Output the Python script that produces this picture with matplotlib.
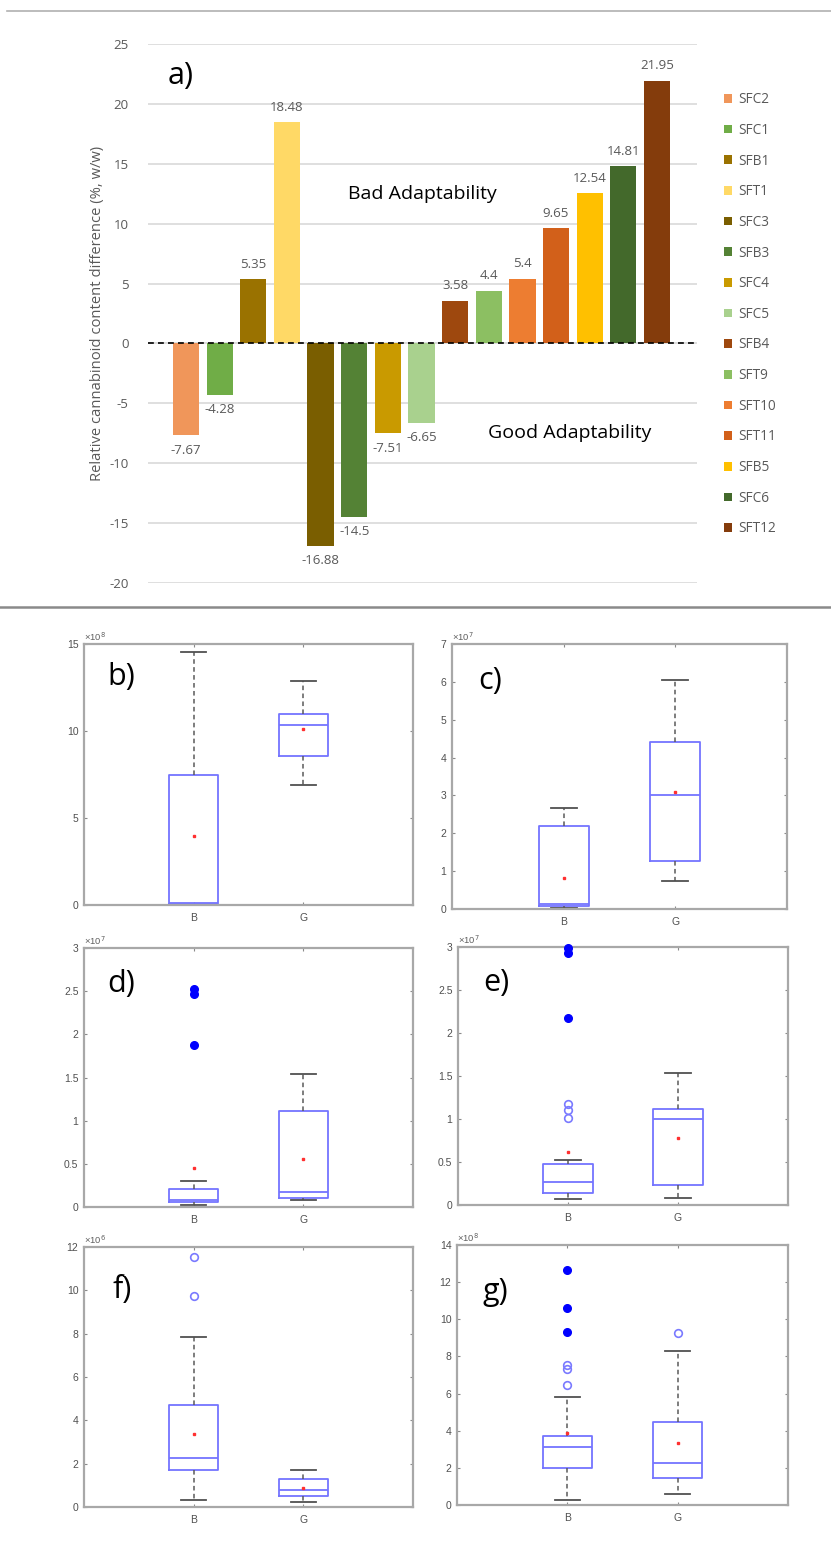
import matplotlib
matplotlib.use("Agg")
import matplotlib.pyplot as plt
from matplotlib.patches import Patch
from matplotlib.lines import Line2D

# ---------------- data: panel a ----------------
samples = ["SFC2", "SFC1", "SFB1", "SFT1", "SFC3", "SFB3", "SFC4", "SFC5",
           "SFB4", "SFT9", "SFT10", "SFT11", "SFB5", "SFC6", "SFT12"]
diff_values = [-7.67, -4.28, 5.35, 18.48, -16.88, -14.5, -7.51, -6.65,
               3.58, 4.4, 5.4, 9.65, 12.54, 14.81, 21.95]
bar_colors = ["#F0965A", "#70AD47", "#9A7200", "#FFD966", "#7A5E00", "#548235",
              "#C99A00", "#A9D18E", "#9E480E", "#8CBF62", "#ED7D31", "#D2601A",
              "#FFC000", "#43692B", "#843C0C"]
y_ticks_a = [-20, -15, -10, -5, 0, 5, 10, 15, 20, 25]

# ---------------- data: panels b-g (values in units of 10^exp) ----------------
panel_names = ["b)", "c)", "d)", "e)", "f)", "g)"]
groups = ["B", "G"]
exponents = [8, 7, 7, 7, 6, 8]
y_max = [15, 7, 3, 3, 12, 14]
y_step = [5, 1, 0.5, 0.5, 2, 2]

whislo = [[0.0, 6.92], [0.02, 0.74], [0.023, 0.081], [0.066, 0.078], [0.32, 0.23], [0.27, 0.59]]
q1 = [[0.04, 8.57], [0.07, 1.26], [0.058, 0.104], [0.136, 0.229], [1.69, 0.51], [1.98, 1.44]]
median = [[0.1, 10.33], [0.12, 3.01], [0.08, 0.174], [0.264, 1.004], [2.28, 0.80], [3.11, 2.28]]
q3 = [[7.49, 10.99], [2.18, 4.41], [0.205, 1.11], [0.477, 1.113], [4.69, 1.31], [3.70, 4.49]]
whishi = [[14.56, 12.87], [2.68, 6.05], [0.30, 1.54], [0.52, 1.53], [7.83, 1.69], [5.82, 8.28]]
means = [[3.94, 10.09], [0.82, 3.09], [0.455, 0.553], [0.613, 0.776], [3.38, 0.88], [3.88, 3.36]]
outliers_open = [[[], []], [[], []], [[], []],
                 [[1.18, 1.10, 1.01], []],
                 [[11.55, 9.74], []],
                 [[7.54, 7.31, 6.46], [9.25]]]
outliers_filled = [[[], []], [[], []],
                   [[2.53, 2.47, 1.88], []],
                   [[2.99, 2.93, 2.18], []],
                   [[], []],
                   [[12.67, 10.59, 9.30], []]]

# ---------------- figure ----------------
W, H = 831, 1552
fig = plt.figure(figsize=(W / 100, H / 100), dpi=100)


def px_axes(l, t, r, b):
    return fig.add_axes([l / W, 1 - b / H, (r - l) / W, (b - t) / H])


# frame lines
fig.add_artist(Line2D([7 / W, 1], [1 - 11 / H, 1 - 11 / H], color="#b0b0b0", lw=1.2))
fig.add_artist(Line2D([0, 1], [1 - 607 / H, 1 - 607 / H], color="#8a8a8a", lw=1.8))

# ---------------- panel a ----------------
office = ["Open Sans", "DejaVu Sans"]
ax = px_axes(148, 44, 697, 583)
x = list(range(len(samples)))
bars = ax.bar(x, diff_values, width=0.78, color=bar_colors, zorder=3)
ax.set_xlim(-1.13, len(samples) - 1 + 1.19)
ax.set_ylim(-20, 25)
ax.set_yticks(y_ticks_a)
ax.set_yticklabels([str(v) for v in y_ticks_a], fontsize=9.5, color="#595959", family=office)
ax.tick_params(axis="y", length=0, pad=14)
ax.set_xticks([])
for s in ax.spines.values():
    s.set_visible(False)
ax.yaxis.grid(True, color="#d9d9d9", lw=1.2, zorder=0)
ax.axhline(0, color="black", lw=1.2, ls=(0, (3.5, 2.5)), zorder=4)
ax.bar_label(bars, labels=[f"{v:g}" for v in diff_values], padding=6,
             fontsize=9.5, color="#595959", family=office)
ax.set_ylabel("Relative cannabinoid content difference (%, w/w)", fontsize=10.6,
              color="#595959", family=office, labelpad=3)
ax.text(0.035, 0.94, "a)", transform=ax.transAxes, fontsize=22, family=office,
        ha="left", va="center")
ax.text(0.499, 0.722, "Bad Adaptability", transform=ax.transAxes, fontsize=14,
        family=office, ha="center", va="center")
ax.text(0.768, 0.278, "Good Adaptability", transform=ax.transAxes, fontsize=14,
        family=office, ha="center", va="center")

handles = [Patch(facecolor=c, edgecolor="none") for c in bar_colors]
fig.legend(handles, samples, loc="upper left",
           bbox_to_anchor=(712 / W, 1 - 80 / H), frameon=False,
           handlelength=0.6, handleheight=0.6, handletextpad=0.45,
           labelspacing=1.15, prop={"family": office, "size": 9.8},
           labelcolor="#595959")

# ---------------- panels b-g ----------------
boxes_px = [(84, 644, 413, 905), (452, 644, 787, 909),
            (84, 948, 413, 1207), (458, 947, 788, 1205),
            (84, 1247, 413, 1507), (457, 1245, 788, 1505)]
label_pos = [(0.07, 0.875), (0.078, 0.86), (0.07, 0.86), (0.076, 0.86), (0.088, 0.835), (0.076, 0.82)]
mat = ["Liberation Sans", "DejaVu Sans"]
spine_c = "#a8a8a8"

for i in range(6):
    axb = px_axes(*boxes_px[i])
    stats = []
    for j in range(2):
        stats.append(dict(label=groups[j], whislo=whislo[i][j], q1=q1[i][j],
                          med=median[i][j], q3=q3[i][j], whishi=whishi[i][j],
                          mean=means[i][j], fliers=[]))
    axb.bxp(stats, positions=[1, 2], widths=0.45, capwidths=0.23,
            showmeans=True, showfliers=False, patch_artist=False,
            boxprops=dict(color="#7474ff", lw=1.3),
            medianprops=dict(color="#7474ff", lw=1.3),
            whiskerprops=dict(color="#5a5a5a", lw=1.1, ls=(0, (3, 2.2))),
            capprops=dict(color="#505050", lw=1.3),
            meanprops=dict(marker="s", markersize=1.8, markerfacecolor="#ff3030",
                           markeredgecolor="#ff3030"))
    for j in range(2):
        if outliers_open[i][j]:
            axb.plot([j + 1] * len(outliers_open[i][j]), outliers_open[i][j], "o",
                     markersize=5.5, markerfacecolor="none",
                     markeredgecolor="#7a7aff", markeredgewidth=1.2, zorder=5)
        if outliers_filled[i][j]:
            axb.plot([j + 1] * len(outliers_filled[i][j]), outliers_filled[i][j], "o",
                     markersize=5.5, color="#0000ff", zorder=5, clip_on=False)
    axb.set_xlim(0, 3)
    axb.set_ylim(0, y_max[i])
    n = int(round(y_max[i] / y_step[i]))
    yt = [k * y_step[i] for k in range(n + 1)]
    axb.set_yticks(yt)
    axb.set_yticklabels([f"{v:g}" for v in yt])
    axb.set_xticks([1, 2])
    axb.set_xticklabels(groups)
    axb.tick_params(direction="in", length=2.5, width=0.8, color="#8a8a8a",
                    labelsize=7.5, labelcolor="#505050", top=True, right=True, pad=4)
    for lab in axb.get_xticklabels() + axb.get_yticklabels():
        lab.set_family(mat)
    axb.tick_params(axis="x", pad=6)
    for s in axb.spines.values():
        s.set_color(spine_c)
        s.set_linewidth(1.6)
    axb.text(0.0, 1.005, "×10$^{%d}$" % exponents[i], transform=axb.transAxes,
             ha="left", va="bottom", fontsize=6.8, color="#606060", family=mat)
    axb.text(label_pos[i][0], label_pos[i][1], panel_names[i], transform=axb.transAxes,
             fontsize=22, family=office, ha="left", va="center")

fig.savefig("out.png", dpi=100)
